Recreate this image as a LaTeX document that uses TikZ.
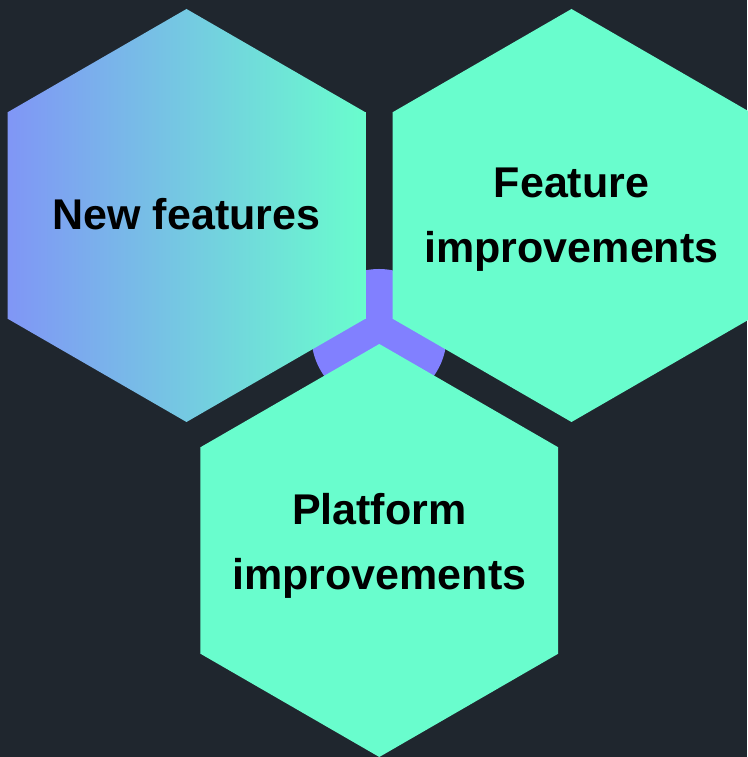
\documentclass[tikz,border=0pt]{standalone}
\usepackage{fontspec}
\setmainfont{Liberation Sans}
\definecolor{bg}{RGB}{31,38,46}
\definecolor{mint}{RGB}{105,253,205}
\definecolor{purp}{RGB}{129,128,255}
\definecolor{gradL}{RGB}{128,150,246}
\definecolor{gradM}{RGB}{112,200,224}
\tikzset{
  lbl/.style={align=center,anchor=base,text=black,font=\fontsize{43}{65}\selectfont\bfseries},
}
\newcommand{\hexpath}[3]{% center x, center y, radius
  (#1,#2+#3) -- (#1+0.8660*#3,#2+0.5*#3) -- (#1+0.8660*#3,#2-0.5*#3) -- (#1,#2-#3) -- (#1-0.8660*#3,#2-0.5*#3) -- (#1-0.8660*#3,#2+0.5*#3) -- cycle}
\begin{document}
\begin{tikzpicture}[x=1pt,y=1pt]
  \fill[bg] (0,0) rectangle (747,757);
  \useasboundingbox (0,0) rectangle (747,757);
  \fill[purp] (379,420.5) circle (67.5);
  \shade[left color=gradL,middle color=gradM,right color=mint] \hexpath{186.5}{541.5}{206.5};
  \fill[mint] \hexpath{571.5}{541.5}{206.5};
  \fill[mint] \hexpath{379.3}{206.5}{206.5};
  \node[lbl] (nf) at (186.5,757-230) {New features};
  \node[lbl] (fi) at (571.5,757-263) {Feature\\improvements};
  \node[lbl] (pi) at (379.3,757-590) {Platform\\improvements};
\end{tikzpicture}
\end{document}
